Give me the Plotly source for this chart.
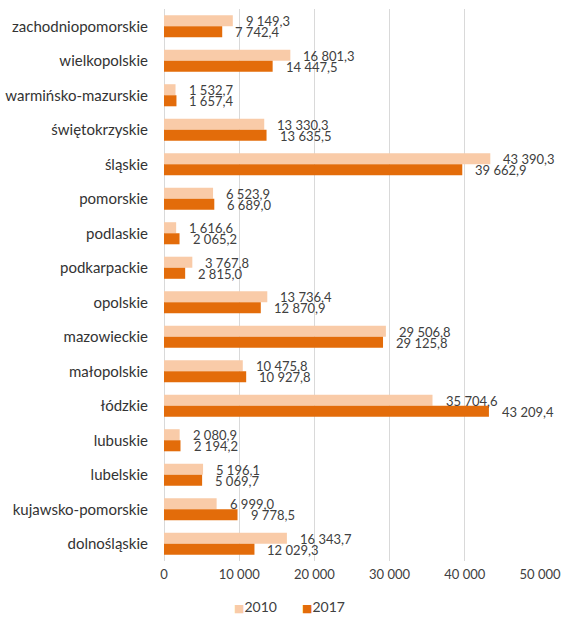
import plotly.graph_objects as go

# Voivodeships, listed top to bottom as drawn
regions = [
    "zachodniopomorskie", "wielkopolskie", "warmińsko-mazurskie", "świętokrzyskie",
    "śląskie", "pomorskie", "podlaskie", "podkarpackie", "opolskie", "mazowieckie",
    "małopolskie", "łódzkie", "lubuskie", "lubelskie", "kujawsko-pomorskie",
    "dolnośląskie",
]
values_2010 = [9149.3, 16801.3, 1532.7, 13330.3, 43390.3, 6523.9, 1616.6, 3767.8,
               13736.4, 29506.8, 10475.8, 35704.6, 2080.9, 5196.1, 6999.0, 16343.7]
values_2017 = [7742.4, 14447.5, 1657.4, 13635.5, 39662.9, 6689.0, 2065.2, 2815.0,
               12870.9, 29125.8, 10927.8, 43209.4, 2194.2, 5069.7, 9778.5, 12029.3]

tick_vals = [0, 10000, 20000, 30000, 40000, 50000]
tick_text = ["0", "10 000", "20 000", "30 000", "40 000", "50 000"]

COLOR_2010 = "#F9CBA8"
COLOR_2017 = "#E36C0A"
TEXT = "#404040"
LABEL = "#333333"
FONT = "Lato"


def fmt(v):
    """Polish number format: space thousands separator, comma decimal."""
    s = f"{v:,.1f}"
    return s.replace(",", " ").replace(".", ",")


fig = go.Figure()
fig.add_trace(go.Bar(name="2010", y=regions, x=values_2010, orientation="h",
                     marker=dict(color=COLOR_2010, line=dict(width=0))))
fig.add_trace(go.Bar(name="2017", y=regions, x=values_2017, orientation="h",
                     marker=dict(color=COLOR_2017, line=dict(width=0))))

# Value labels just beyond the end of each bar
for vals, dy in ((values_2010, 5), (values_2017, -6)):
    for reg, v in zip(regions, vals):
        fig.add_annotation(x=v, y=reg, xref="x", yref="y", text=fmt(v),
                           showarrow=False, xanchor="left", yanchor="middle",
                           xshift=11, yshift=dy,
                           font=dict(family=FONT, size=13, color=TEXT))

# Compact legend: small coloured squares tight against the series names
key = "<span style='font-family:DejaVu Sans;font-size:11px;color:{c}'>■</span>{n}"
legend_text = "&nbsp;" * 7
legend_text = legend_text.join(
    key.format(c=c, n=n) for n, c in ((fig.data[0].name, COLOR_2010),
                                      (fig.data[1].name, COLOR_2017)))
fig.add_annotation(text=legend_text, xref="paper", yref="paper",
                   x=0.333, y=-0.082, xanchor="center", yanchor="middle",
                   showarrow=False,
                   font=dict(family=FONT, size=14, color=TEXT))

fig.update_layout(
    width=563, height=619,
    margin=dict(l=164, r=23, t=9, b=58),
    paper_bgcolor="white", plot_bgcolor="white",
    barmode="group", bargap=0.36, bargroupgap=0,
    font=dict(family=FONT, size=14, color=TEXT),
    showlegend=False,
    xaxis=dict(range=[0, 50000], tickvals=tick_vals, ticktext=tick_text,
               showgrid=True, gridcolor="#D9D9D9", gridwidth=1,
               zeroline=True, zerolinecolor="#D9D9D9", zerolinewidth=1,
               showline=False, ticks="", ticklabelstandoff=4, automargin=False,
               tickfont=dict(family=FONT, size=13, color=TEXT), fixedrange=True),
    yaxis=dict(autorange="reversed", type="category", showgrid=False,
               showline=False, ticks="", ticklabelstandoff=15, automargin=False,
               tickfont=dict(family=FONT, size=15, color=LABEL)),
)

fig.write_html("out.html")
